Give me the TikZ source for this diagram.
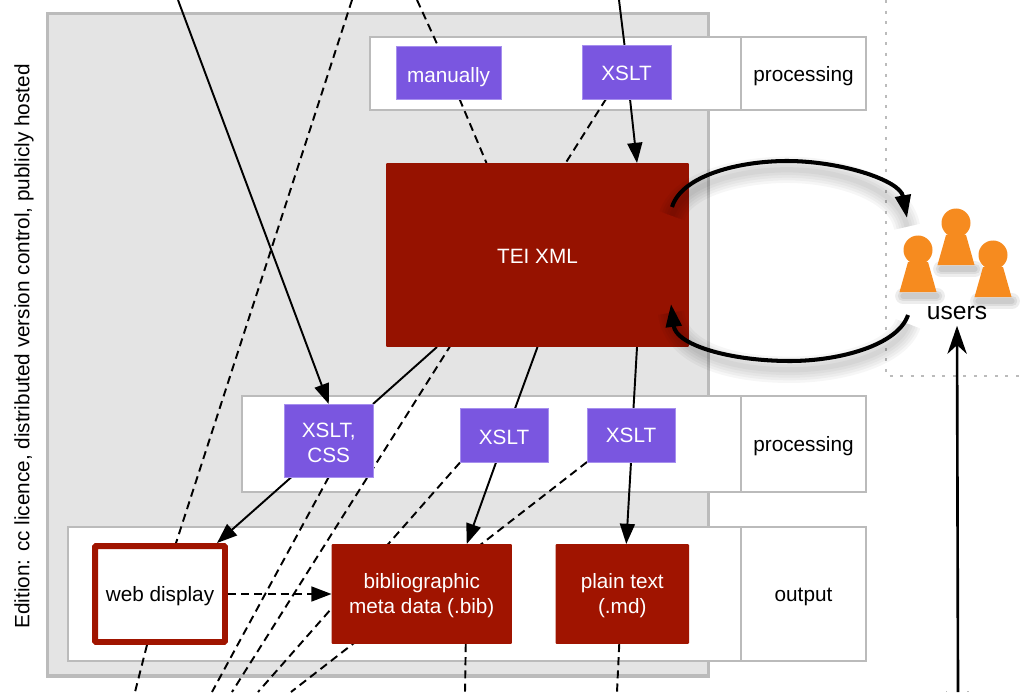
\documentclass[tikz,border=0pt]{standalone}
\usepackage{fontspec}
\setmainfont{Liberation Sans}
\usetikzlibrary{arrows.meta,calc,backgrounds}
\pgfdeclarelayer{base}
\pgfsetlayers{base,background,main}
\definecolor{editiongrey}{HTML}{E4E4E4}
\definecolor{framegrey}{HTML}{BBBBBB}
\definecolor{toolpurple}{HTML}{7A56E0}
\definecolor{toolborder}{HTML}{A68FEE}
\definecolor{teired}{HTML}{961200}
\definecolor{outred}{HTML}{A01400}
\definecolor{userorange}{HTML}{F68B1F}
\tikzset{
  every node/.style={inner sep=0pt,outer sep=0pt,align=center,font=\fontsize{11.8}{14.4}\selectfont},
  oneline/.style={text height=#1,text depth=0pt},
  oneline/.default=9pt,
  twolines/.style={text height=#1,text depth=.4pt},
  twolines/.default=23pt,
  band/.style={draw=framegrey,fill=white,line width=1pt},
  tool/.style={draw=toolborder,fill=toolpurple,text=white,line width=.5pt},
  output/.style={fill=outred,text=white,rounded corners=.6pt},
  flow/.style={line width=1.1pt,-{Triangle[length=11.5pt,width=8.5pt]}},
  plainflow/.style={line width=1.1pt},
  dashflow/.style={line width=1.1pt,dash pattern=on 4.6pt off 2.9pt},
  dotline/.style={framegrey,line width=1pt,dash pattern=on 1.7pt off 4.3pt},
  loopflow/.style={line width=2.3pt,-{Triangle[length=13pt,width=8.8pt]}},
}
\begin{document}
\begin{tikzpicture}[x=0.02cm,y=-0.02cm]
	\useasboundingbox (0,0) rectangle (1026,692);
	% free ends
	\coordinate (dottop) at (886,0);
	\coordinate (dotcorner) at (886,376);
	\coordinate (dotright) at (1030,376);
	\coordinate (dotlowleft) at (946,691.5);
	\coordinate (dotlowright) at (969,691.5);
	\coordinate (topcss) at (178,0);
	\coordinate (topweb) at (352,0);
	\coordinate (topman) at (417,0);
	\coordinate (topxslt) at (619,0);
	\coordinate (lowweb) at (135,692);
	\coordinate (lowcss) at (212,692);
	\coordinate (lowxslt) at (232,692);
	\coordinate (lowbibt) at (258,692);
	\coordinate (lowmdt) at (291,692);
	\coordinate (lowbib) at (465,692);
	\coordinate (lowmd) at (617,692);
	\coordinate (lowusers) at (958,692);
	\coordinate (loopoutstart) at (672,207);
	\coordinate (loopoutend) at (907,218);
	\coordinate (loopinstart) at (908,315);
	\coordinate (loopinend) at (671,304);
	% edition frame and bands
	\begin{pgfonlayer}{base}
		\draw [fill=editiongrey,draw=framegrey,line width=2pt] (47.5,13.5) rectangle (708.5,676);
		\draw [dotline] (dottop) -- (dotcorner) -- (dotright);
		\draw [dotline,dash pattern=on .8pt off 11.3pt] (dotlowleft) -- (dotlowright);
		\node [band,minimum width=7.42cm,minimum height=1.46cm] (bandtop) at (555.5,73.5) {};
		\node [band,oneline,minimum width=2.5cm,minimum height=1.46cm] (labeltop) at (803.5,73.5) {processing};
		\node [band,minimum width=9.98cm,minimum height=1.92cm] (bandmid) at (491.5,444) {};
		\node [band,oneline,minimum width=2.5cm,minimum height=1.92cm] (labelmid) at (803.5,444) {processing};
		\node [band,minimum width=13.46cm,minimum height=2.68cm] (bandout) at (404.5,594) {};
		\node [band,oneline=8.7pt,minimum width=2.5cm,minimum height=2.68cm] (labelout) at (803.5,594) {output};
	\end{pgfonlayer}
	\node [rotate=90] (edition) at (24,346.5) {Edition: cc licence, distributed version control, publicly hosted};
	% tools
	\node [tool,oneline=11.3pt,minimum width=2.1cm,minimum height=1.06cm] (manually) at (448.5,72.5) {manually};
	\node [tool,oneline=10.1pt,minimum width=1.78cm,minimum height=1.08cm] (xslttop) at (626.5,72) {XSLT};
	\node [tool,twolines=25.3pt,minimum width=1.77cm,minimum height=1.46cm] (xsltcss) at (328.75,440.5) {XSLT,\\CSS};
	\node [tool,oneline=10.1pt,minimum width=1.76cm,minimum height=1.08cm] (xsltbib) at (504,435.5) {XSLT};
	\node [tool,oneline=8.7pt,minimum width=1.76cm,minimum height=1.08cm] (xsltmd) at (631,435) {XSLT};
	% sources and outputs
	\node [oneline=9.4pt,fill=teired,text=white,rounded corners=.6pt,minimum width=6.06cm,minimum height=3.68cm] (tei) at (537.5,255) {TEI XML};
	\node [oneline=8.7pt,draw=outred,fill=white,line width=3.4pt,rounded corners=.6pt,outer sep=1.7pt,minimum width=2.6cm,minimum height=1.92cm] (web) at (160,594) {web display};
	\node [output,twolines,minimum width=3.61cm,minimum height=2cm] (bib) at (421.75,594) {bibliographic\\meta data (.bib)};
	\node [output,twolines,minimum width=2.67cm,minimum height=2cm] (plain) at (622.25,594) {plain text\\(.md)};
	\node [font=\fontsize{14}{16}\selectfont] (users) at (957,313) {users};
	% connectors behind the boxes
	\begin{scope}[on background layer]
		\draw [flow] (topcss) -- (xsltcss.north);
		\draw [dashflow] (topweb) -- ($(web.north)+(16,0)$);
		\draw [dashflow] ($(web.south)+(-13,0)$) -- (lowweb);
		\draw [dashflow] (topman) -- ($(manually.north)+(-10.5,0)$);
		\draw [dashflow] ($(manually.south)+(11,0)$) -- ($(tei.north)+(-51,0)$);
		\draw [plainflow] (topxslt) -- ($(xslttop.north)+(-2,0)$);
		\draw [flow] ($(xslttop.south)+(3.5,0)$) -- ($(tei.north)+(99.5,0)$);
		\draw [dashflow] ($(xslttop.south)+(-20.5,0)$) -- (lowxslt);
		\draw [plainflow] ($(tei.south)+(-100.5,0)$) -- (xsltcss.north east);
		\draw [flow] ($(xsltcss.south west)+(7,0)$) -- ($(web.north)+(57,0)$);
		\draw [dashflow] (xsltcss.south) -- (lowcss);
		\draw [plainflow] (tei.south) -- ($(xsltbib.north)+(11,0)$);
		\draw [flow] ($(xsltbib.south)+(-8,0)$) -- ($(bib.north)+(45,0)$);
		\draw [dashflow] (xsltbib.south west) -- (lowbibt);
		\draw [plainflow] ($(tei.south)+(99.5,0)$) -- ($(xsltmd.north)+(2.5,0)$);
		\draw [flow] (xsltmd.south) -- ($(plain.north)+(4,0)$);
		\draw [dashflow] (xsltmd.south west) -- (lowmdt);
		\draw [dashflow] ($(bib.south)+(44,0)$) -- (lowbib);
		\draw [dashflow] ($(plain.south)+(-3,0)$) -- (lowmd);
	\end{scope}
	\draw [flow,dashflow] (web.east) -- (bib.west);
	\draw [line width=1.5pt,-{Stealth[length=16pt,width=11pt,inset=5pt]}] (lowusers) -- ($(users.south)+(0,6)$);
	% round trip with soft shadow
	\foreach \w in {15,12,9,6,3} {
		\draw [black,opacity=.035,line width=\w pt,transform canvas={yshift=-5pt}] (loopoutstart) .. controls (682,175) and (740,161) .. (787,161) .. controls (840,161) and (900,180) .. (907,218);
		\draw [black,opacity=.035,line width=\w pt,transform canvas={yshift=-5pt}] (loopinstart) .. controls (898,345) and (840,361) .. (790,361) .. controls (730,361) and (676,345) .. (671,304);
	}
	\draw [loopflow] (loopoutstart) .. controls (682,175) and (740,161) .. (787,161) .. controls (840,161) and (900,180) .. (loopoutend);
	\draw [loopflow] (loopinstart) .. controls (898,345) and (840,361) .. (790,361) .. controls (730,361) and (676,345) .. (loopinend);
	% three users
	\foreach \ux/\uy in {918/250,956/223,993/255} {
		\foreach \w in {9,6,3} {
			\draw [black,opacity=.07,line width=\w pt,line cap=round] (\ux-15,\uy+46) -- (\ux+19,\uy+46);
		}
		\fill [userorange] (\ux-18.5,\uy+42) -- (\ux-10,\uy+12) -- (\ux+10,\uy+12) -- (\ux+18.5,\uy+42) -- cycle;
		\fill [userorange] (\ux,\uy) circle [radius=14.5];
	}
\end{tikzpicture}
\end{document}
